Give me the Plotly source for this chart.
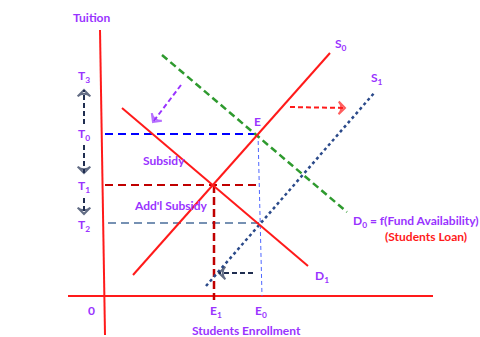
import plotly.graph_objects as go

FONT = 'Lato'
PURPLE = '#9933ff'
RED = '#ff1a1a'
NAVY = '#1f2d50'

# model lines (enrollment, tuition)
S0_X = [3.0, 22.7]
S0_Y = [2.1, 24.3]
D1_X = [1.9, 20.5]
D1_Y = [18.8, 3.0]
D0_X = [5.9, 24.4]
D0_Y = [24.1, 8.4]
S1_X = [10.3, 27.2]
S1_Y = [1.0, 20.4]

# key levels
T0, T1, T2 = 16.2, 11.1, 7.3
E1, E0 = 11.1, 15.6

# axis lines
VAXIS_X = [-0.3, 0.2]
VAXIS_Y = [26.6, -3.9]
HAXIS_X = [-3.5, 33.0]
HAXIS_Y = [0, 0]

# dashed arrows: (x0, y0, x1, y1, colour)
ARROWS = [
    (7.8, 21.1, 5.0, 17.4, PURPLE),
    (18.7, 18.9, 24.2, 18.8, RED),
    (15.0, 2.3, 11.6, 2.3, NAVY),
    (-1.9, 17.2, -1.9, 20.6, NAVY),
    (-1.9, 15.1, -1.9, 12.3, NAVY),
    (-1.9, 9.8, -1.9, 8.2, NAVY),
]

# labels: (x, y, text, colour)
LABELS = [
    (-1.1, 27.9, 'Tuition', PURPLE),
    (-1.9, 22.0, 'T<sub>3</sub>', PURPLE),
    (-1.9, 16.2, 'T<sub>0</sub>', PURPLE),
    (-1.9, 11.0, 'T<sub>1</sub>', PURPLE),
    (-1.9, 7.1, 'T<sub>2</sub>', PURPLE),
    (-1.2, -1.4, '0', PURPLE),
    (11.3, -1.5, 'E<sub>1</sub>', PURPLE),
    (15.8, -1.5, 'E<sub>0</sub>', PURPLE),
    (14.3, -3.4, 'Students Enrollment', PURPLE),
    (6.1, 13.6, 'Subsidy', PURPLE),
    (6.7, 9.1, "Add'l Subsidy", PURPLE),
    (15.4, 17.5, 'E', PURPLE),
    (23.8, 25.2, 'S<sub>0</sub>', PURPLE),
    (27.4, 21.8, 'S<sub>1</sub>', PURPLE),
    (21.9, 2.0, 'D<sub>1</sub>', PURPLE),
    (31.3, 7.5, 'D<sub>0</sub> = f(Fund Availability)', PURPLE),
    (32.3, 6.0, '(Students Loan)', RED),
]


def line(x, y, color, width=2, dash='solid'):
    return go.Scatter(x=x, y=y, mode='lines', hoverinfo='skip', showlegend=False,
                      line=dict(color=color, width=width, dash=dash))


fig = go.Figure()
fig.add_trace(line(VAXIS_X, VAXIS_Y, RED))
fig.add_trace(line(HAXIS_X, HAXIS_Y, RED))

# guide lines
fig.add_trace(line([0.2, 15.5], [T0, T0], '#0000ff', 2, '8px,5px'))
fig.add_trace(line([0.2, 15.7], [T1, T1], '#c00000', 2, '8px,5px'))
fig.add_trace(line([0.5, 15.7], [T2, T2], '#4a6e9a', 1.5, '8px,5px'))
fig.add_trace(line([E1, E1], [T1, -0.4], '#c00000', 2.5, '8px,4px'))
fig.add_trace(line([15.5, 15.9], [T0, 0], '#4d66ff', 1, '4px,3px'))

# curves
fig.add_trace(line(D0_X, D0_Y, '#2e9a2e', 2.5, '7px,4px'))
fig.add_trace(line(S1_X, S1_Y, '#2b4a8a', 2.5, 'dot'))
fig.add_trace(line(S0_X, S0_Y, RED, 2))
fig.add_trace(line(D1_X, D1_Y, RED, 2))

for x0, y0, x1, y1, c in ARROWS:
    fig.add_trace(go.Scatter(
        x=[x0, x1], y=[y0, y1], mode='lines+markers', hoverinfo='skip', showlegend=False,
        line=dict(color=c, width=2, dash='5px,3px'),
        marker=dict(symbol=['line-ns', 'arrow-wide-open'], size=[0, 9], angleref='previous',
                    color=c, line=dict(color=c, width=2)),
    ))

for x, y, t, c in LABELS:
    fig.add_annotation(x=x, y=y, text=t, showarrow=False,
                       font=dict(family=FONT, size=12, color=c, weight='bold'))

fig.update_xaxes(range=[-10.3, 37.7], visible=False)
fig.update_yaxes(range=[-4.1, 29.6], visible=False)
fig.update_layout(width=480, height=337, margin=dict(l=0, r=0, t=0, b=0),
                  paper_bgcolor='white', plot_bgcolor='white', font_family=FONT)
fig.write_html('out.html', config={'displayModeBar': False},
               post_script="document.body.style.margin='0';")
